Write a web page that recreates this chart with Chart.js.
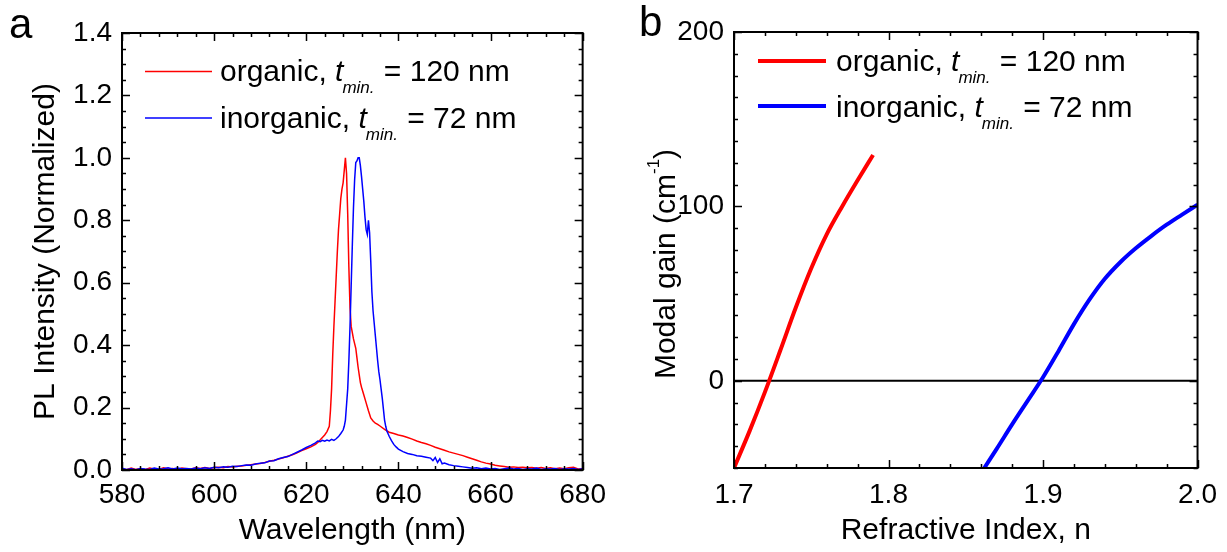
<!DOCTYPE html>
<html>
<head>
<meta charset="utf-8">
<script src="https://cdn.jsdelivr.net/npm/chart.js@4.4.1/dist/chart.umd.min.js"></script>
<style>
html,body{margin:0;padding:0;background:#fff;}
#wrap{position:relative;width:1227px;height:552px;overflow:hidden;background:#fff;}
canvas.panel{position:absolute;top:0;}
.letter{position:absolute;font-family:"Liberation Sans",Arial,sans-serif;font-size:42px;color:#000;line-height:1;}
</style>
</head>
<body>
<div id="wrap">
<canvas id="ca" class="panel" width="614" height="552" style="left:0px"></canvas>
<canvas id="cb" class="panel" width="613" height="552" style="left:614px"></canvas>
<div class="letter" style="left:9px;top:3px">a</div>
<div class="letter" style="left:639px;top:1px">b</div>
</div>
<script>
// ---------- Panel a: PL spectra ----------
const organicWavelength = [580,581,582,583,584,585,586,587,588,589,590,591,592,593,594,595,596,597,598,599,600,601,602,603,604,605,606,607,608,609,610,611,612,613,614,615,616,617,618,619,620,621,622,622.5,623,623.5,624,624.5,625,625.25,625.5,625.75,626,626.25,626.5,626.75,627,627.25,627.5,627.75,628,628.25,628.5,628.75,629,629.25,629.5,629.75,630,630.25,630.5,630.75,631,631.25,631.5,631.75,632,632.5,633,633.5,634,634.5,635,635.5,636,637,638,639,640,641,642,643,644,645,646,647,648,649,650,651,652,653,654,655,656,657,658,659,660,661,662,663,664,665,666,667,668,669,670,671,672,673,674,675,676,677,678,679,680];
const organicIntensity = [0.004,0.001,0.006,0.002,0.005,0.001,0.006,0.003,0.002,0.007,0.003,0.005,0.002,0.006,0.004,0.003,0.007,0.005,0.008,0.005,0.008,0.009,0.007,0.011,0.010,0.012,0.013,0.015,0.017,0.019,0.021,0.024,0.028,0.031,0.035,0.039,0.044,0.049,0.055,0.062,0.068,0.074,0.082,0.088,0.096,0.104,0.112,0.123,0.14,0.19,0.26,0.37,0.46,0.54,0.62,0.70,0.77,0.82,0.87,0.90,0.92,0.96,1.0,0.95,0.82,0.65,0.52,0.46,0.44,0.42,0.405,0.39,0.36,0.33,0.305,0.28,0.265,0.24,0.215,0.19,0.167,0.157,0.15,0.146,0.141,0.13,0.121,0.117,0.112,0.109,0.104,0.099,0.093,0.088,0.084,0.079,0.073,0.068,0.063,0.058,0.054,0.05,0.046,0.041,0.036,0.031,0.026,0.022,0.019,0.015,0.013,0.011,0.009,0.010,0.008,0.009,0.007,0.008,0.006,0.008,0.005,0.007,0.004,0.006,0.004,0.007,0.009,0.003,0.004];

const inorganicWavelength = [580,581,582,583,584,585,586,587,588,589,590,591,592,593,594,595,596,597,598,599,600,601,602,603,604,605,606,607,608,609,610,611,612,613,614,615,616,617,618,619,620,621,622,622.5,623,623.5,624,624.5,625,625.5,626,626.5,627,627.5,628,628.25,628.5,628.75,629,629.25,629.5,629.75,630,630.25,630.5,630.75,631,631.25,631.5,631.75,632,632.25,632.5,632.75,633,633.25,633.5,633.75,634,634.25,634.5,634.75,635,635.25,635.5,635.75,636,636.25,636.5,636.75,637,637.25,637.5,638,638.5,639,639.5,640,641,642,643,644,645,646,647,647.5,648,648.5,649,649.5,650,651,652,653,654,655,656,657,658,659,660,661,662,663,664,665,666,667,668,669,670,671,672,673,674,675,676,677,678,679,680];
const inorganicIntensity = [0.006,0.002,0.004,0.001,0.005,0.003,0.002,0.006,0.003,0.004,0.007,0.003,0.006,0.004,0.005,0.003,0.006,0.004,0.007,0.005,0.009,0.007,0.010,0.009,0.012,0.011,0.014,0.016,0.015,0.019,0.022,0.023,0.029,0.030,0.036,0.040,0.043,0.050,0.057,0.064,0.072,0.079,0.087,0.093,0.091,0.095,0.092,0.096,0.093,0.098,0.095,0.10,0.107,0.117,0.128,0.14,0.16,0.21,0.26,0.35,0.46,0.59,0.72,0.84,0.93,0.985,0.99,1.0,1.0,0.975,0.94,0.90,0.86,0.81,0.77,0.755,0.80,0.76,0.67,0.57,0.51,0.47,0.43,0.39,0.35,0.315,0.29,0.26,0.23,0.195,0.16,0.14,0.125,0.108,0.094,0.082,0.074,0.067,0.059,0.053,0.050,0.046,0.044,0.041,0.038,0.030,0.040,0.024,0.036,0.020,0.022,0.017,0.014,0.012,0.010,0.008,0.006,0.007,0.004,0.006,0.003,0.005,0.002,0.004,0.006,0.003,0.005,0.002,0.004,0.003,0.006,0.002,0.004,0.003,0.005,0.002,0.004,0.003,0.005,0.002,0.004];

// ---------- Panel b: modal gain ----------
const refractiveIndexOrganic = [1.70,1.71,1.72,1.73,1.74,1.75,1.76,1.77,1.78,1.79];
const gainOrganic = [-50,-29,-6.5,17.5,42,64.5,84,100,115,129.5];
const refractiveIndexInorganic = [1.862,1.87,1.88,1.89,1.90,1.91,1.92,1.93,1.94,1.95,1.96,1.97,1.98,1.99,2.00];
const gainInorganic = [-50,-39,-25,-11.5,2,17,32.5,46.5,58.5,68,76,83,89.5,95.3,101];
const zeroLineIndex = [1.7, 2.0];
const zeroLineGain = [0, 0];

// ---------- labels ----------
const seriesNames = ['organic', 'inorganic'];
const seriesThickness = ['120', '72'];
const seriesColors = ['#ff0000', '#0000ff'];

const FONT = '"Liberation Sans", Arial, Helvetica, sans-serif';

function pts(xs, ys) { return xs.map((x, i) => ({x: x, y: ys[i]})); }

// Inward ticks on all four sides + frame
const framePlugin = {
  id: 'frameTicks',
  afterDraw(chart, args, o) {
    const ctx = chart.ctx, a = chart.chartArea, x = chart.scales.x, y = chart.scales.y;
    const each = (min, max, step, major, cb) => {
      const n = Math.round((max - min) / step);
      for (let i = 0; i <= n; i++) {
        const v = min + i * step;
        const r = v / major;
        cb(v, Math.abs(r - Math.round(r)) < 1e-6);
      }
    };
    ctx.save();
    ctx.strokeStyle = '#000';
    ctx.lineWidth = o.tickWidth;
    ctx.beginPath();
    each(x.min, x.max, o.xMinor, o.xMajor, (v, maj) => {
      const p = Math.round(x.getPixelForValue(v)) + 0.5;
      const L = maj ? o.majorLen : o.minorLen;
      ctx.moveTo(p, a.bottom); ctx.lineTo(p, a.bottom - L);
      ctx.moveTo(p, a.top); ctx.lineTo(p, a.top + L);
    });
    each(y.min, y.max, o.yMinor, o.yMajor, (v, maj) => {
      const p = Math.round(y.getPixelForValue(v)) + 0.5;
      const L = maj ? o.majorLen : o.minorLen;
      ctx.moveTo(a.left, p); ctx.lineTo(a.left + L, p);
      ctx.moveTo(a.right, p); ctx.lineTo(a.right - L, p);
    });
    ctx.stroke();
    ctx.lineWidth = o.frameWidth;
    ctx.strokeRect(a.left, a.top, a.right - a.left, a.bottom - a.top);
    ctx.restore();
  }
};

// Legend with italic t and subscript "min."
const legendPlugin = {
  id: 'innerLegend',
  afterDraw(chart, args, o) {
    const ctx = chart.ctx;
    ctx.save();
    ctx.textAlign = 'left';
    ctx.textBaseline = 'alphabetic';
    ctx.lineCap = 'butt';
    seriesNames.forEach((name, i) => {
      const ds = chart.data.datasets[i];
      ctx.strokeStyle = ds.borderColor;
      ctx.lineWidth = o.lineWidth;
      ctx.beginPath();
      ctx.moveTo(o.x0, o.lineY[i]);
      ctx.lineTo(o.x1, o.lineY[i]);
      ctx.stroke();
      const base = o.baseY[i];
      let xx = o.textX;
      ctx.fillStyle = '#000';
      const pre = name + ', ';
      ctx.font = '30px ' + FONT;
      ctx.fillText(pre, xx, base);
      xx += ctx.measureText(pre).width;
      ctx.font = 'italic 30px ' + FONT;
      ctx.fillText('t', xx, base);
      xx += ctx.measureText('t').width - 1;
      ctx.font = 'italic 17px ' + FONT;
      ctx.fillText('min.', xx, base + 12);
      xx += ctx.measureText('min.').width + 1;
      ctx.font = '30px ' + FONT;
      ctx.fillText(' = ' + seriesThickness[i] + ' nm', xx, base);
    });
    ctx.restore();
  }
};

// Rotated y title with superscript
const yTitlePlugin = {
  id: 'yTitleSup',
  afterDraw(chart, args, o) {
    if (!o || !o.main) return;
    const ctx = chart.ctx;
    ctx.save();
    ctx.translate(o.x, o.y);
    ctx.rotate(-Math.PI / 2);
    ctx.fillStyle = '#000';
    ctx.textAlign = 'left';
    ctx.textBaseline = 'alphabetic';
    ctx.font = '30px ' + FONT;
    const w1 = ctx.measureText(o.main).width;
    const w3 = ctx.measureText(o.close).width;
    ctx.font = '17px ' + FONT;
    const w2 = ctx.measureText(o.sup).width;
    let s = -(w1 + w2 + w3) / 2;
    ctx.font = '30px ' + FONT;
    ctx.fillText(o.main, s, 7.5);
    ctx.font = '17px ' + FONT;
    ctx.fillText(o.sup, s + w1, -8);
    ctx.font = '30px ' + FONT;
    ctx.fillText(o.close, s + w1 + w2, 7.5);
    ctx.restore();
  }
};

const tickFont = {family: FONT, size: 28};
const titleFont = {family: FONT, size: 30};

// ---------- Chart a ----------
new Chart(document.getElementById('ca'), {
  type: 'line',
  data: {
    datasets: [
      {label: 'organic, tmin. = 120 nm', data: pts(organicWavelength, organicIntensity), borderColor: seriesColors[0], borderWidth: 1.5, pointRadius: 0, tension: 0, fill: false, order: 1},
      {label: 'inorganic, tmin. = 72 nm', data: pts(inorganicWavelength, inorganicIntensity), borderColor: seriesColors[1], borderWidth: 1.5, pointRadius: 0, tension: 0, fill: false, order: 0}
    ]
  },
  options: {
    responsive: false, animation: false, devicePixelRatio: 1,
    layout: {padding: {left: 0, top: 33, right: 27, bottom: 0}},
    plugins: {
      legend: {display: false}, tooltip: {enabled: false},
      frameTicks: {xMinor: 4, xMajor: 20, yMinor: 0.05, yMajor: 0.2, majorLen: 8, minorLen: 4, tickWidth: 1.5, frameWidth: 2},
      innerLegend: {x0: 145, x1: 212, textX: 220, lineY: [71.5, 118], baseY: [81, 127.5], lineWidth: 1.5}
    },
    scales: {
      x: {
        type: 'linear', min: 580, max: 680,
        afterFit: s => { s.height = 82; },
        grid: {display: false, drawTicks: false}, border: {display: false},
        ticks: {stepSize: 20, padding: 8, color: '#000', font: tickFont, maxRotation: 0, autoSkip: false, callback: v => String(v)},
        title: {display: true, text: 'Wavelength (nm)', color: '#000', font: titleFont, padding: {top: 0, bottom: 3}}
      },
      y: {
        type: 'linear', min: 0, max: 1.4,
        afterFit: s => { s.width = 122; },
        grid: {display: false, drawTicks: false}, border: {display: false},
        ticks: {stepSize: 0.2, padding: 10, color: '#000', font: tickFont, autoSkip: false, callback: v => Number(v).toFixed(1)},
        title: {display: true, text: 'PL Intensity (Normalized)', color: '#000', font: titleFont, padding: {top: 28, bottom: 0}}
      }
    }
  },
  plugins: [framePlugin, legendPlugin]
});

// ---------- Chart b ----------
new Chart(document.getElementById('cb'), {
  type: 'line',
  data: {
    datasets: [
      {label: 'organic, tmin. = 120 nm', data: pts(refractiveIndexOrganic, gainOrganic), borderColor: seriesColors[0], borderWidth: 4, pointRadius: 0, cubicInterpolationMode: 'monotone', fill: false, clip: 0},
      {label: 'inorganic, tmin. = 72 nm', data: pts(refractiveIndexInorganic, gainInorganic), borderColor: seriesColors[1], borderWidth: 4, pointRadius: 0, cubicInterpolationMode: 'monotone', fill: false, clip: 0},
      {label: 'zero', data: pts(zeroLineIndex, zeroLineGain), borderColor: '#000', borderWidth: 2, pointRadius: 0, tension: 0, fill: false, clip: 0}
    ]
  },
  options: {
    responsive: false, animation: false, devicePixelRatio: 1,
    layout: {padding: {left: 0, top: 32, right: 27, bottom: 0}},
    plugins: {
      legend: {display: false}, tooltip: {enabled: false},
      frameTicks: {xMinor: 0.02, xMajor: 0.1, yMinor: 12.5, yMajor: 100, majorLen: 8, minorLen: 4, tickWidth: 1.5, frameWidth: 2},
      innerLegend: {x0: 144, x1: 212, textX: 222, lineY: [61, 106], baseY: [71, 116.5], lineWidth: 4},
      yTitleSup: {x: 53, y: 264, main: 'Modal gain (cm', sup: '-1', close: ')'}
    },
    scales: {
      x: {
        type: 'linear', min: 1.7, max: 2.0,
        afterFit: s => { s.height = 84; },
        grid: {display: false, drawTicks: false}, border: {display: false},
        ticks: {stepSize: 0.1, padding: 10, color: '#000', font: tickFont, maxRotation: 0, autoSkip: false, callback: v => Number(v).toFixed(1)},
        title: {display: true, text: 'Refractive Index, n', color: '#000', font: titleFont, padding: {top: 0, bottom: 3}}
      },
      y: {
        type: 'linear', min: -50, max: 200,
        afterFit: s => { s.width = 120; },
        grid: {display: false, drawTicks: false}, border: {display: false},
        ticks: {stepSize: 50, padding: 10, color: '#000', font: tickFont, autoSkip: false, callback: v => (Math.round(v) % 100 === 0 ? String(Math.round(v)) : '')},
        title: {display: false}
      }
    }
  },
  plugins: [framePlugin, legendPlugin, yTitlePlugin]
});
</script>
</body>
</html>
